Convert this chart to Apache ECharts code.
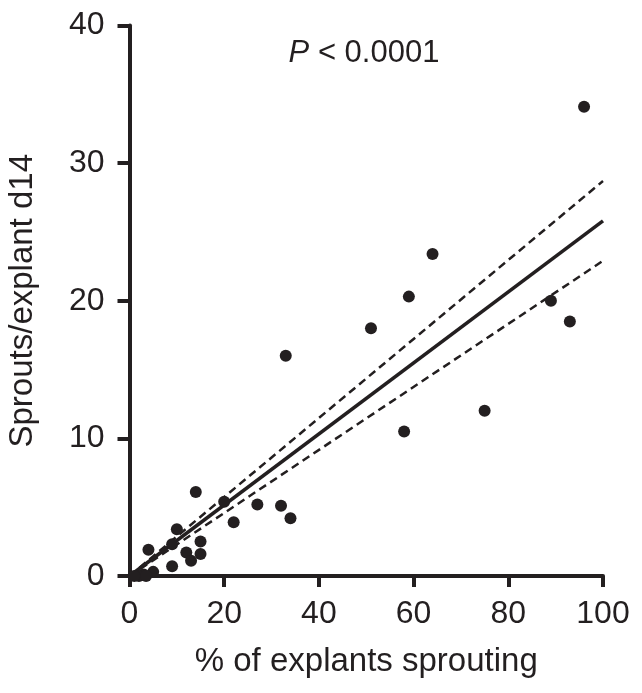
<!DOCTYPE html>
<html>
<head>
<meta charset="utf-8">
<script src="https://cdn.jsdelivr.net/npm/echarts@6/dist/echarts.min.js"></script>
<style>
html,body{margin:0;padding:0;background:#fff;}
#chart{width:642px;height:693px;}
</style>
</head>
<body>
<div id="chart"></div>
<script>
// % of explants sprouting (x) and sprouts/explant d14 (y)
const pctSprouting = [96, 64, 59, 51, 89, 93, 33, 75, 58, 14, 20, 27, 32, 34, 22, 10, 9, 4, 15, 12, 15, 13, 9, 5, 3, 2, 1, 3.5];
const sproutsPerExplant = [34.1, 23.4, 20.3, 18.0, 20.0, 18.5, 16.0, 12.0, 10.5, 6.1, 5.4, 5.2, 5.1, 4.2, 3.9, 3.4, 2.3, 1.9, 2.5, 1.7, 1.6, 1.1, 0.7, 0.3, 0.1, 0.0, 0.0, 0.0];
// regression line and 95% confidence bands
const fitX = [0, 100];
const fitY = [0, 25.8];
const upperY = [0, 28.7];
const lowerY = [0, 22.9];
const xAxisTitle = '% of explants sprouting';
const yAxisTitle = 'Sprouts/explant d14';
const pText = 'P';
const pRest = ' < 0.0001';

const ink = '#231f20';
const font = 'Liberation Sans, Arial, Helvetica, sans-serif';

const chart = echarts.init(document.getElementById('chart'), null, {renderer: 'canvas'});
const pts = pctSprouting.map((x, i) => [x, sproutsPerExplant[i]]);
const line = ys => fitX.map((x, i) => [x, ys[i]]);

chart.setOption({
  animation: false,
  backgroundColor: '#fff',
  grid: {left: 129.5, right: 39, top: 25.5, bottom: 117, containLabel: false, outerBoundsMode: 'none'},
  xAxis: {
    type: 'value', min: 0, max: 100, interval: 20,
    name: xAxisTitle, nameLocation: 'middle', nameGap: 69,
    nameTextStyle: {fontFamily: font, fontSize: 33, color: ink},
    axisLine: {show: true, onZero: false, lineStyle: {color: ink, width: 4}},
    axisTick: {show: true, inside: false, length: 11, lineStyle: {color: ink, width: 4}},
    axisLabel: {fontFamily: font, fontSize: 32, color: ink, margin: 22},
    splitLine: {show: false}
  },
  yAxis: {
    type: 'value', min: 0, max: 40, interval: 10,
    name: yAxisTitle, nameLocation: 'middle', nameGap: 90,
    nameTextStyle: {fontFamily: font, fontSize: 33, color: ink},
    axisLine: {show: true, onZero: false, lineStyle: {color: ink, width: 4}},
    axisTick: {show: true, inside: false, length: 12, lineStyle: {color: ink, width: 4}},
    axisLabel: {fontFamily: font, fontSize: 32, color: ink, margin: 25},
    splitLine: {show: false}
  },
  graphic: [{
    type: 'text', x: 364, y: 69,
    style: {
      text: '{i|' + pText + '}' + pRest,
      rich: {i: {fontStyle: 'italic', fontFamily: font, fontSize: 31, fill: ink}},
      fontFamily: font, fontSize: 31, fill: ink,
      align: 'center', verticalAlign: 'bottom'
    }
  }],
  series: [
    {type: 'line', data: line(upperY), symbol: 'none', silent: true, z: 2,
      lineStyle: {color: ink, width: 2.5, type: [8, 5]}},
    {type: 'line', data: line(lowerY), symbol: 'none', silent: true, z: 2,
      lineStyle: {color: ink, width: 2.5, type: [8, 5]}},
    {type: 'line', data: line(fitY), symbol: 'none', silent: true, z: 3,
      lineStyle: {color: ink, width: 3.5}},
    {type: 'scatter', data: pts, symbol: 'circle', symbolSize: 12, clip: false, z: 4,
      itemStyle: {color: ink, opacity: 1}}
  ]
});
</script>
</body>
</html>
